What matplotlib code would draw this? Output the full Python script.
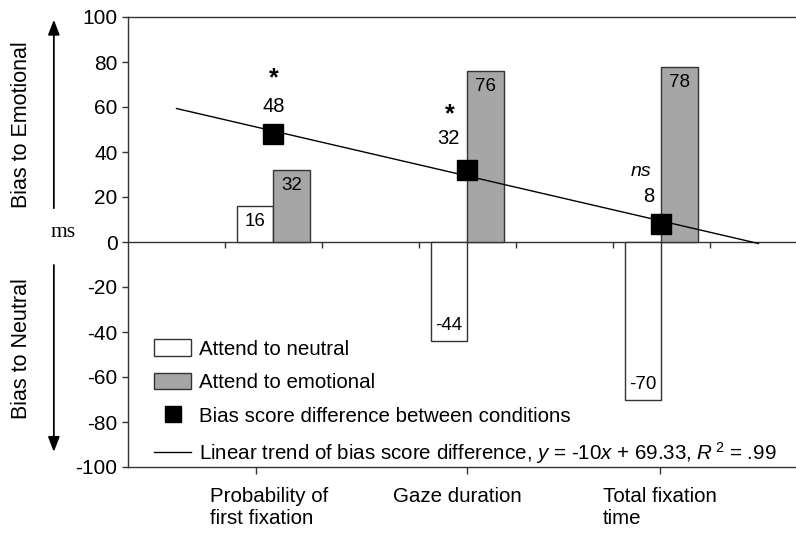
import numpy as np
import matplotlib
matplotlib.use("Agg")
import matplotlib.pyplot as plt
from matplotlib.lines import Line2D
from matplotlib.patches import Patch
from matplotlib import markers

plt.rcParams["font.family"] = ["Liberation Sans", "DejaVu Sans"]
plt.rcParams["mathtext.fontset"] = "custom"
plt.rcParams["mathtext.rm"] = "Liberation Sans"
plt.rcParams["mathtext.it"] = "Liberation Sans:italic"
plt.rcParams["axes.unicode_minus"] = False

# data
measures = ["Probability of\nfirst fixation", "Gaze duration", "Total fixation\ntime"]
attend_neutral = [16, -44, -70]
attend_emotional = [32, 76, 78]
bias_diff = [48, 32, 8]
signif = ["*", "*", "ns"]
trend_slope = -10
trend_intercept = 69.33
trend_x = [1, 7]
# position of each measure on the trend index axis
measure_pos = np.array([2, 4, 6])

GRAY = "#a6a6a6"
EDGE = "#333333"
bar_w = 0.38

fig = plt.figure(figsize=(7.96, 5.33), dpi=100)
ax = fig.add_axes([128 / 796, 66 / 533, 668 / 796, 450 / 533])
ax.set_xlim(0.5, 7.387)
ax.set_ylim(-100, 100)

ax.bar(measure_pos - bar_w / 2, attend_neutral, bar_w, color="white",
       edgecolor=EDGE, linewidth=1, zorder=2)
ax.bar(measure_pos + bar_w / 2, attend_emotional, bar_w, color=GRAY,
       edgecolor=EDGE, linewidth=1, zorder=2)

# zero line with small boundary ticks
ax.axhline(0, color=EDGE, lw=1, zorder=1)
bounds = np.arange(1.5, 7, 1.0)
ax.plot(bounds, np.zeros_like(bounds), ls="none", marker=markers.TICKDOWN,
        ms=4, mew=1, color=EDGE, zorder=1)

# trend line
tx = np.array(trend_x, dtype=float)
ax.plot(tx, trend_slope * tx + trend_intercept, color="black", lw=1, zorder=3)

# squares
ax.plot(measure_pos, bias_diff, ls="none", marker="s", ms=15,
        color="black", zorder=4)

# bar value labels
for x, v in zip(measure_pos - bar_w / 2, attend_neutral):
    off = -11.5 if v > 0 else 11
    ax.annotate(f"{v}", (x, v), xytext=(0, off), textcoords="offset points",
                ha="center", va="center", fontsize=13.5, zorder=5)
for x, v in zip(measure_pos + bar_w / 2, attend_emotional):
    ax.annotate(f"{v}", (x, v), xytext=(0, -11.5), textcoords="offset points",
                ha="center", va="center", fontsize=13.5, zorder=5)

# square labels (offsets in points)
num_off = [(0, 20), (-14, 23), (-9, 20)]
sig_off = [(0, 40), (-13, 40), (-15, 38)]
for x, v, s, no, so in zip(measure_pos, bias_diff, signif, num_off, sig_off):
    ax.annotate(f"{v}", (x, v), xytext=no, textcoords="offset points",
                ha="center", va="center", fontsize=14.5)
    if s == "*":
        ax.annotate(s, (x, v), xytext=so, textcoords="offset points",
                    ha="center", va="center", fontsize=18, fontweight="bold")
    else:
        ax.annotate(s, (x, v), xytext=so, textcoords="offset points",
                    ha="center", va="center", fontsize=14, fontstyle="italic")

# spines / ticks
ax.spines["right"].set_visible(False)
for side in ["left", "top", "bottom"]:
    ax.spines[side].set_color(EDGE)
    ax.spines[side].set_linewidth(1)
ax.set_yticks(range(-100, 101, 20))
ax.tick_params(axis="y", direction="out", length=4.5, width=1, color=EDGE,
               labelsize=15, pad=3)
ax.set_xticks([1.82, 4.0, 5.98])
ax.set_xticklabels([])
ax.tick_params(axis="x", direction="out", length=5, width=1, color=EDGE)
label_x = [1.95, 3.9, 5.98]
for lx, name in zip(label_x, measures):
    ax.text(lx, -0.045, name, transform=ax.get_xaxis_transform(), ha="center",
            va="top", multialignment="left", fontsize=14.8, linespacing=1.15)

# side labels and arrows
yt = ax.get_yaxis_transform()
ax.annotate("", xy=(-0.111, 100), xytext=(-0.111, 13.8), xycoords=yt,
            textcoords=yt, annotation_clip=False,
            arrowprops=dict(arrowstyle="-|>,head_length=0.9,head_width=0.35",
                            color="black", lw=1.3))
ax.annotate("", xy=(-0.111, -94.5), xytext=(-0.111, -9), xycoords=yt,
            textcoords=yt, annotation_clip=False,
            arrowprops=dict(arrowstyle="-|>,head_length=0.9,head_width=0.35",
                            color="black", lw=1.3))
ax.text(-0.16, 52, "Bias to Emotional", transform=yt, rotation=90,
        ha="center", va="center", fontsize=15.5)
ax.text(-0.16, -47.5, "Bias to Neutral", transform=yt, rotation=90,
        ha="center", va="center", fontsize=15.5)
ax.text(-0.097, 4.4, "ms", transform=yt, ha="center", va="center",
        fontsize=15.5, family="Liberation Serif")

# legend
handles = [
    Patch(facecolor="white", edgecolor=EDGE, linewidth=1),
    Patch(facecolor=GRAY, edgecolor=EDGE, linewidth=1),
    Line2D([], [], ls="none", marker="s", ms=11, color="black"),
    Line2D([], [], color="black", lw=1),
]
labels = [
    "Attend to neutral",
    "Attend to emotional",
    "Bias score difference between conditions",
    r"Linear trend of bias score difference, $\mathit{y}$ = -10$\mathit{x}$ + 69.33, $\mathit{R}^{\,2}$ = .99",
]
ax.legend(handles, labels, loc="upper left", bbox_to_anchor=(0.039, 0.284),
          frameon=False, fontsize=14.8, borderpad=0, borderaxespad=0,
          handlelength=1.8, handleheight=0.85, handletextpad=0.4,
          labelspacing=0.7)

fig.savefig("out.png", dpi=100)
